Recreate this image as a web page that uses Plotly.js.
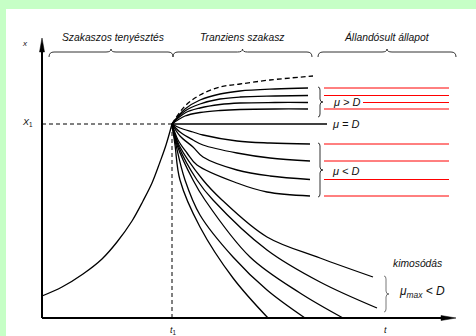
<!DOCTYPE html>
<html><head><meta charset="utf-8">
<script src="https://cdn.plot.ly/plotly-3.0.1.min.js"></script>
<style>html,body{margin:0;padding:0;background:#fff}#c{width:476px;height:336px}</style>
</head><body><div id="c"></div>
<script>
// time t1 and concentration x1 (chart units)
const T1 = 130, X1 = 194;
// batch phase (exponential growth)
const batchT = [0, 20, 41, 60, 75, 90, 101, 110, 118, 124, 130];
const batchX = [22, 31, 44, 59, 76, 97, 117, 135, 156, 173, 194];
// mu = mu_max curve (dashed)
const maxT = [130, 143, 158, 178, 198, 228, 271];
const maxX = [194, 212, 223, 231, 234, 238, 242];
// steady-state levels
const upperLevels = [230, 222.5, 215.5, 209];
const lowerLevels = [174, 157, 138.5, 122];
// mu > D transients
const upT = [130, 143, 158, 178, 198, 233, 266];
const up1 = [194, 209, 218, 224, 227, 229, 230];
const up2 = [194, 207, 214, 219, 221, 222, 222.5];
const up3 = [194, 205, 210, 213.5, 215, 215.5, 215.5];
const up4 = [194, 202, 205.5, 207.5, 208.5, 209, 209];
// mu < D transients
const lowT = [130, 138, 151, 161, 195, 228, 268];
const low1 = [194, 190, 186, 183, 177, 175, 174];
const low2 = [194, 186, 178, 173, 165, 160, 157];
const low3 = [194, 182, 171, 161, 148, 142, 138.5];
const low4T = [130, 136, 145, 155, 195, 225, 268];
const low4 = [194, 178, 165, 153, 135, 126, 122];
// washout curves (mu_max < D)
const w1T = [130, 133, 138, 158, 191, 226];
const w1X = [194, 173, 138, 91, 40, 0];
const w2T = [130, 134, 143, 158, 191, 225, 263];
const w2X = [194, 173, 138, 103, 61, 28, 0];
const w3T = [130, 135, 151, 163, 208, 258, 301];
const w3X = [194, 173, 138, 118, 61, 25, 0];
const w4T = [130, 136, 155, 171, 225, 278, 335];
const w4X = [194, 173, 138, 118, 68, 36, 10];
const w5T = [130, 137, 161, 180, 225, 278, 331];
const w5X = [194, 173, 138, 118, 81, 60, 41];
// steady-state segment
const ssStart = 282, ssEnd = 407, ssTextEnd = 321;
const muDEnd = 285;
// axes extents
const tAxisEnd = 414, xAxisEnd = 280;
// phase labels and brace spans
const phaseLabels = ['Szakaszos tenyésztés', 'Tranziens szakasz', 'Állandósult állapot'];
const phaseStart = [7, 131, 276];
const phaseEnd = [131, 270, 414];

const traces = [];
function curve(t, x, opts) {
  traces.push(Object.assign({
    type: 'scatter', mode: 'lines', x: t, y: x, hoverinfo: 'skip',
    line: {color: '#000', width: 1.3, shape: 'spline', smoothing: 1}
  }, opts || {}));
}
// axes
curve([0, 0], [0, xAxisEnd - 6], {line: {color: '#000', width: 2}});
curve([0, tAxisEnd - 8], [0, 0], {line: {color: '#000', width: 2}});
// dashed guides
curve([0, T1], [X1, X1], {line: {color: '#000', width: 1, dash: '4px,3px'}});
curve([T1, T1], [0, X1], {line: {color: '#000', width: 1, dash: '4px,3px'}});
// batch
curve(batchT, batchX);
curve(maxT, maxX, {line: {color: '#000', width: 1.3, dash: '5px,3px', shape: 'spline'}});
[up1, up2, up3, up4].forEach(a => curve(upT, a));
curve([T1, muDEnd], [X1, X1], {line: {color: '#000', width: 1.5}});
[low1, low2, low3].forEach(a => curve(lowT, a));
curve(low4T, low4);
curve(w1T, w1X); curve(w2T, w2X); curve(w3T, w3X); curve(w4T, w4X); curve(w5T, w5X);
// red steady-state lines
upperLevels.forEach((v, i) => curve([i === 2 ? ssTextEnd : ssStart, ssEnd], [v, v], {line: {color: '#ff0000', width: 1}}));
lowerLevels.forEach(v => curve([ssStart, ssEnd], [v, v], {line: {color: '#ff0000', width: 1}}));

function hBrace(t0, t1, y) {
  const tm = (t0 + t1) / 2, d = 5, h = 3, r = 5;
  return `M ${t0},${y - d} Q ${t0},${y} ${t0 + r},${y} L ${tm - r},${y} Q ${tm},${y} ${tm},${y + h} Q ${tm},${y} ${tm + r},${y} L ${t1 - r},${y} Q ${t1},${y} ${t1},${y - d}`;
}
function vBrace(c, y0, y1) {
  const ym = (y0 + y1) / 2, d = 2, h = 3, r = 3;
  return `M ${c - d},${y0} Q ${c},${y0} ${c},${y0 - r} L ${c},${ym + r} Q ${c},${ym} ${c + h},${ym} Q ${c},${ym} ${c},${ym - r} L ${c},${y1 + r} Q ${c},${y1} ${c - d},${y1}`;
}
const shapes = [];
phaseStart.forEach((s, i) => shapes.push({type: 'path', xref: 'x', yref: 'y', path: hBrace(s, phaseEnd[i], 266), line: {color: '#333', width: 1}}));
shapes.push({type: 'path', xref: 'x', yref: 'y', path: vBrace(278, upperLevels[0] + 1, upperLevels[3] - 8), line: {color: '#333', width: 1}});
shapes.push({type: 'path', xref: 'x', yref: 'y', path: vBrace(278, lowerLevels[0] + 1, lowerLevels[3] - 1), line: {color: '#333', width: 1}});
shapes.push({type: 'path', xref: 'x', yref: 'y', path: vBrace(344, 42, 6), line: {color: '#555', width: 0.8}});
// arrow heads
shapes.push({type: 'path', xref: 'x', yref: 'y', path: `M 0,${xAxisEnd} L -2.5,${xAxisEnd - 14} L 2.5,${xAxisEnd - 14} Z`, fillcolor: '#000', line: {color: '#000', width: 0.5}});
shapes.push({type: 'path', xref: 'x', yref: 'y', path: `M ${tAxisEnd},0 L ${tAxisEnd - 15},2.5 L ${tAxisEnd - 15},-2.5 Z`, fillcolor: '#000', line: {color: '#000', width: 0.5}});

const F = 'Liberation Sans, Arial, sans-serif';
function ann(t, x, text, size, anchor) {
  return {x: t, y: x, xref: 'x', yref: 'y', text: text, showarrow: false,
    xanchor: anchor || 'center', yanchor: 'middle', font: {family: F, size: size, color: '#111'}};
}
const annotations = [
  ann((phaseStart[0] + phaseEnd[0]) / 2 + 2, 281, '<i>' + phaseLabels[0] + '</i>', 10.3),
  ann((phaseStart[1] + phaseEnd[1]) / 2, 281, '<i>' + phaseLabels[1] + '</i>', 10.3),
  ann((phaseStart[2] + phaseEnd[2]) / 2, 281, '<i>' + phaseLabels[2] + '</i>', 10.3),
  ann(-17, 275, '<i>x</i>', 8),
  ann(-15, 196, '<i>X</i><sub>1</sub>', 9),
  ann(T1 + 1, -12, '<i>t</i><sub>1</sub>', 9),
  ann(343, -12, '<i>t</i>', 9),
  ann(289, 216, '<i>μ &gt; D</i>', 11, 'left'),
  ann(288, 194, '<i>μ = D</i>', 11, 'left'),
  ann(288, 147, '<i>μ &lt; D</i>', 11, 'left'),
  ann(375, 55, '<i>kimosódás</i>', 10.3),
  ann(355, 26, '<i>μ</i><sub><i>max</i></sub><i> &lt; D</i>', 12, 'left')
];

const layout = {
  width: 476, height: 336, showlegend: false,
  margin: {l: 6, t: 9, r: 0, b: 0, pad: 0},
  paper_bgcolor: '#c6ffc6', plot_bgcolor: '#ffffff',
  xaxis: {range: [-36, 434], visible: false, fixedrange: true},
  yaxis: {range: [-18, 309], visible: false, fixedrange: true},
  shapes: shapes, annotations: annotations
};
Plotly.newPlot('c', traces, layout, {staticPlot: true, displayModeBar: false});
</script></body></html>
